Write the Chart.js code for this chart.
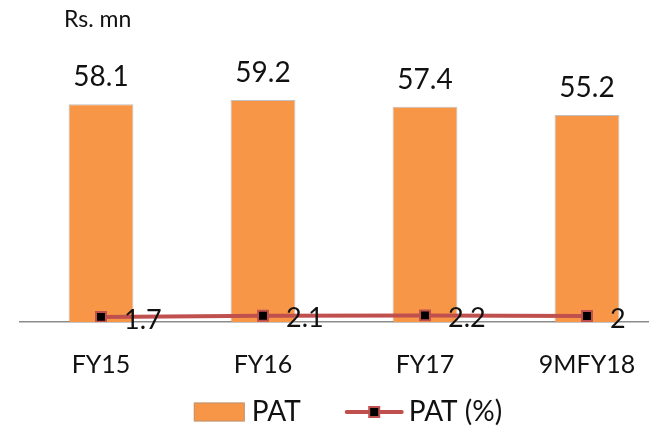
<!DOCTYPE html>
<html>
<head>
<meta charset="utf-8">
<script src="https://cdn.jsdelivr.net/npm/chart.js@4"></script>
<style>
  html, body { margin: 0; padding: 0; background: #fff; overflow: hidden; }
  #wrap { width: 677px; height: 428px; }
</style>
</head>
<body>
<div id="wrap"><canvas id="c" width="677" height="428"></canvas></div>
<script>
// Profit after tax: absolute (Rs. mn) and margin (%)
const categories = ['FY15', 'FY16', 'FY17', '9MFY18'];
const patValues = [58.1, 59.2, 57.4, 55.2];
const patPctValues = [1.7, 2.1, 2.2, 2];
const unitLabel = 'Rs. mn';
const seriesNames = ['PAT', 'PAT (%)'];

const FONT = 'Lato, "Open Sans", sans-serif';
const TEXT = '#111';
const BAR = '#F79646';
const LINE = '#C0504D';

// Value labels above bars and to the right of the line markers
const valueLabels = {
  id: 'valueLabels',
  afterDatasetsDraw(chart) {
    const ctx = chart.ctx;
    const barMeta = chart.data.datasets.findIndex(d => d.type === 'bar');
    const lineMeta = chart.data.datasets.findIndex(d => d.type === 'line');
    ctx.save();
    ctx.fillStyle = TEXT;
    ctx.font = '28px ' + FONT;
    chart.getDatasetMeta(barMeta).data.forEach((el, i) => {
      ctx.textAlign = 'center';
      ctx.textBaseline = 'alphabetic';
      ctx.fillText(String(patValues[i]), el.x, el.y - 18);
    });
    ctx.font = '27px ' + FONT;
    chart.getDatasetMeta(lineMeta).data.forEach((el, i) => {
      ctx.textAlign = 'left';
      ctx.textBaseline = 'middle';
      ctx.fillText(String(patPctValues[i]), el.x + 23, el.y + 3);
    });
    ctx.restore();
  }
};

// Unit caption and bottom legend
const decorations = {
  id: 'decorations',
  afterDraw(chart) {
    const ctx = chart.ctx;
    ctx.save();
    ctx.fillStyle = TEXT;
    ctx.font = '23px ' + FONT;
    ctx.textAlign = 'left';
    ctx.textBaseline = 'alphabetic';
    ctx.fillText(unitLabel, 64, 27);

    ctx.font = '28px ' + FONT;
    const boxW = 51, boxH = 19, lineW = 55, gap = 7, between = 46;
    const w1 = ctx.measureText(seriesNames[0]).width;
    const w2 = ctx.measureText(seriesNames[1]).width;
    const total = boxW + gap + w1 + between + lineW + gap + w2;
    const cy = 412;
    let x = chart.chartArea.left + (chart.chartArea.right - chart.chartArea.left) / 2 + 4 - total / 2;

    ctx.fillStyle = BAR;
    ctx.fillRect(x, cy - boxH / 2, boxW, boxH);
    ctx.strokeStyle = 'rgba(150,150,150,0.6)';
    ctx.lineWidth = 1;
    ctx.strokeRect(x + 0.5, cy - boxH / 2 + 0.5, boxW - 1, boxH - 1);
    x += boxW + gap;
    ctx.fillStyle = TEXT;
    ctx.textBaseline = 'middle';
    ctx.fillText(seriesNames[0], x, cy);
    x += w1 + between;

    ctx.strokeStyle = LINE;
    ctx.lineWidth = 4;
    ctx.lineCap = 'round';
    ctx.beginPath();
    ctx.moveTo(x, cy);
    ctx.lineTo(x + lineW, cy);
    ctx.stroke();
    ctx.fillStyle = '#000';
    ctx.strokeStyle = LINE;
    ctx.lineWidth = 2;
    ctx.fillRect(x + lineW / 2 - 5, cy - 5, 10, 10);
    ctx.strokeRect(x + lineW / 2 - 5, cy - 5, 10, 10);
    x += lineW + gap;
    ctx.fillStyle = TEXT;
    ctx.fillText(seriesNames[1], x, cy);
    ctx.restore();
  }
};

new Chart(document.getElementById('c'), {
  data: {
    labels: categories,
    datasets: [
      {
        type: 'line',
        label: seriesNames[1],
        data: patPctValues,
        yAxisID: 'y2',
        borderColor: LINE,
        borderWidth: 4,
        pointStyle: 'rect',
        pointRadius: 7,
        pointBackgroundColor: '#000',
        pointBorderColor: LINE,
        pointBorderWidth: 2,
        tension: 0,
        order: 0
      },
      {
        type: 'bar',
        label: seriesNames[0],
        data: patValues,
        yAxisID: 'y',
        backgroundColor: BAR,
        borderColor: 'rgba(150,150,150,0.6)',
        borderWidth: 1,
        categoryPercentage: 1,
        barPercentage: 0.4,
        order: 1
      }
    ]
  },
  options: {
    responsive: false,
    animation: false,
    events: [],
    layout: { padding: { left: 20, right: 0, top: 22, bottom: 0 } },
    plugins: {
      legend: { display: false },
      tooltip: { enabled: false },
      title: { display: false }
    },
    scales: {
      x: {
        offset: true,
        grid: { display: false, drawTicks: false },
        border: { display: true, color: '#8c8c8c', width: 1.5 },
        ticks: { color: TEXT, font: { family: FONT, size: 25 }, padding: 28 },
        afterFit(scale) { scale.height = 106; }
      },
      y: { display: false, min: 0, max: 80 },
      y2: { display: false, position: 'right', min: 0, max: 100 }
    }
  },
  plugins: [valueLabels, decorations]
});
</script>
</body>
</html>
